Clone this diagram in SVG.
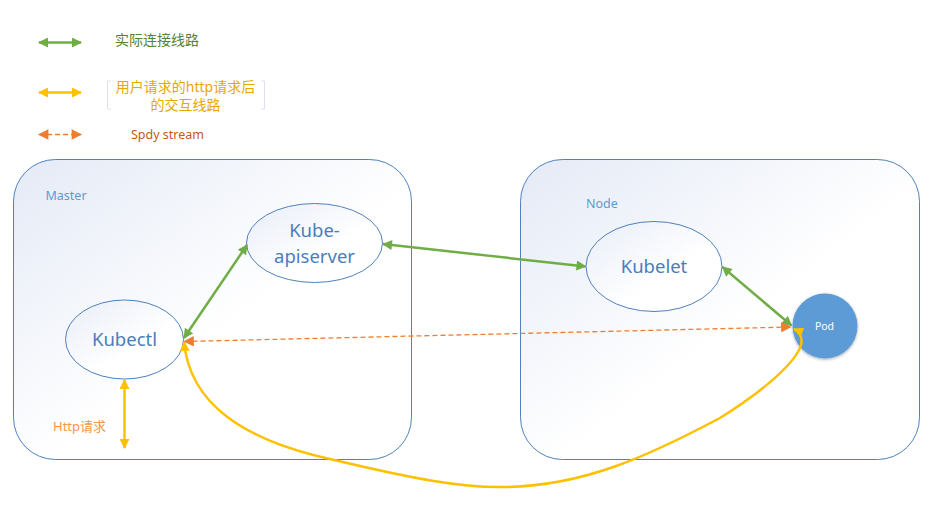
<svg xmlns="http://www.w3.org/2000/svg" width="940" height="513" viewBox="0 0 940 513">
<defs>
<style>
.box{stroke:#4f81bd;stroke-width:1;fill:url(#boxg)}
.ell{stroke:#4f81bd;stroke-width:1;fill:url(#ellg)}
.lbl{font-family:"Noto Sans","Open Sans","Noto Sans CJK SC",sans-serif}
.ntext{font-family:"Noto Sans","Open Sans",sans-serif;font-size:18.5px;fill:#4a7ebb;text-anchor:middle}
.green{stroke:#70ad47;stroke-width:2.5;fill:none}
.yellow{stroke:#ffc000;stroke-width:2.5;fill:none}
.orange{stroke:#ed7d31;stroke-width:1.3;stroke-dasharray:5 3;fill:none}
</style>
<linearGradient id="boxg" x1="0" y1="0" x2="1" y2="1">
<stop offset="0" stop-color="#e4eaf6"/>
<stop offset="0.55" stop-color="#ffffff"/>
<stop offset="1" stop-color="#ffffff"/>
</linearGradient>
<linearGradient id="ellg" x1="0" y1="0" x2="1" y2="1">
<stop offset="0" stop-color="#e8edf8"/>
<stop offset="0.6" stop-color="#ffffff"/>
<stop offset="1" stop-color="#ffffff"/>
</linearGradient>
<marker id="gA" viewBox="0 0 10 10" refX="9" refY="5" markerWidth="4.4" markerHeight="4" orient="auto-start-reverse" markerUnits="strokeWidth">
<path d="M0,0 L10,5 L0,10 z" fill="#70ad47"/>
</marker>
<marker id="yA" viewBox="0 0 10 10" refX="9" refY="5" markerWidth="4.4" markerHeight="4" orient="auto-start-reverse" markerUnits="strokeWidth">
<path d="M0,0 L10,5 L0,10 z" fill="#ffc000"/>
</marker>
<marker id="oA" viewBox="0 0 10 10" refX="9" refY="5" markerWidth="9" markerHeight="8" orient="auto-start-reverse" markerUnits="strokeWidth">
<path d="M0,0 L10,5 L0,10 z" fill="#ed7d31"/>
</marker>
<filter id="sh" x="-30%" y="-30%" width="160%" height="160%">
<feGaussianBlur in="SourceAlpha" stdDeviation="1.5"/>
<feOffset dx="0" dy="0.5" result="b"/>
<feFlood flood-color="#000" flood-opacity="0.35"/>
<feComposite in2="b" operator="in"/>
<feMerge><feMergeNode/><feMergeNode in="SourceGraphic"/></feMerge>
</filter>
</defs>
<rect width="940" height="513" fill="#ffffff"/>

<g id="legend">
<line class="green" x1="39" y1="42.5" x2="81" y2="42.5" marker-start="url(#gA)" marker-end="url(#gA)"/>
<text class="lbl" x="115" y="44.5" font-size="14" fill="#548235">实际连接线路</text>
<line class="yellow" x1="39" y1="92.5" x2="81" y2="92.5" marker-start="url(#yA)" marker-end="url(#yA)"/>
<path d="M111,81 H107.5 V109 H111 M261,81 H264.5 V109 H261" fill="none" stroke="#dde2ea" stroke-width="1"/>
<text class="lbl" x="185.5" y="92" font-size="14" fill="#e6a800" text-anchor="middle">用户请求的http请求后</text>
<text class="lbl" x="185.5" y="110" font-size="14" fill="#e6a800" text-anchor="middle">的交互线路</text>
<line class="orange" x1="39" y1="134.5" x2="81" y2="134.5" marker-start="url(#oA)" marker-end="url(#oA)"/>
<text class="lbl" x="131" y="139" font-size="12.5" fill="#c55a11">Spdy stream</text>
</g>

<g id="master">
<rect class="box" x="13.5" y="159.5" width="398" height="300" rx="42" ry="42"/>
<text class="lbl" x="45.5" y="200" font-size="12.5" fill="#5b9bd5">Master</text>
</g>

<g id="node">
<rect class="box" x="520.5" y="159.5" width="399" height="300" rx="42" ry="42"/>
<text class="lbl" x="586" y="208" font-size="12.5" fill="#5b9bd5">Node</text>
</g>

<g id="kube-apiserver">
<ellipse class="ell" cx="314.5" cy="243" rx="68" ry="39.5"/>
<text class="ntext" x="314.5" y="236.5">Kube-</text>
<text class="ntext" x="314.5" y="263">apiserver</text>
</g>

<g id="kubectl">
<ellipse class="ell" cx="124.5" cy="339.5" rx="59" ry="39.5"/>
<text class="ntext" x="124.5" y="346">Kubectl</text>
</g>

<g id="kubelet">
<ellipse class="ell" cx="654" cy="266.5" rx="68" ry="45"/>
<text class="ntext" x="654" y="273">Kubelet</text>
</g>

<g id="pod">
<circle cx="825" cy="326" r="32.5" fill="#5b9bd5" filter="url(#sh)"/>
<text class="lbl" x="824.5" y="329.5" font-size="10.5" fill="#ffffff" text-anchor="middle">Pod</text>
</g>

<g id="http-label">
<text class="lbl" x="53" y="431" font-size="13" fill="#f79646">Http请求</text>
</g>

<g id="connectors">
<line class="green" x1="383" y1="244" x2="585.5" y2="266.5" marker-start="url(#gA)" marker-end="url(#gA)"/>
<line class="green" x1="247" y1="245" x2="184" y2="338" marker-start="url(#gA)" marker-end="url(#gA)"/>
<line class="green" x1="722.5" y1="267" x2="791.5" y2="325.5" marker-start="url(#gA)" marker-end="url(#gA)"/>
<line class="orange" x1="184.5" y1="341.5" x2="790.5" y2="327" marker-start="url(#oA)" marker-end="url(#oA)"/>
<line class="yellow" x1="124.5" y1="380" x2="124.5" y2="448" marker-start="url(#yA)" marker-end="url(#yA)"/>
<path class="yellow" d="M184,342 C190,405 245,440 330,459 C410,478 460,488 505,487 C585,486 650,455 720,418 C765,390 796,362 801,345 C803,337 799,331 794,329" marker-start="url(#yA)" marker-end="url(#yA)"/>
</g>
</svg>
